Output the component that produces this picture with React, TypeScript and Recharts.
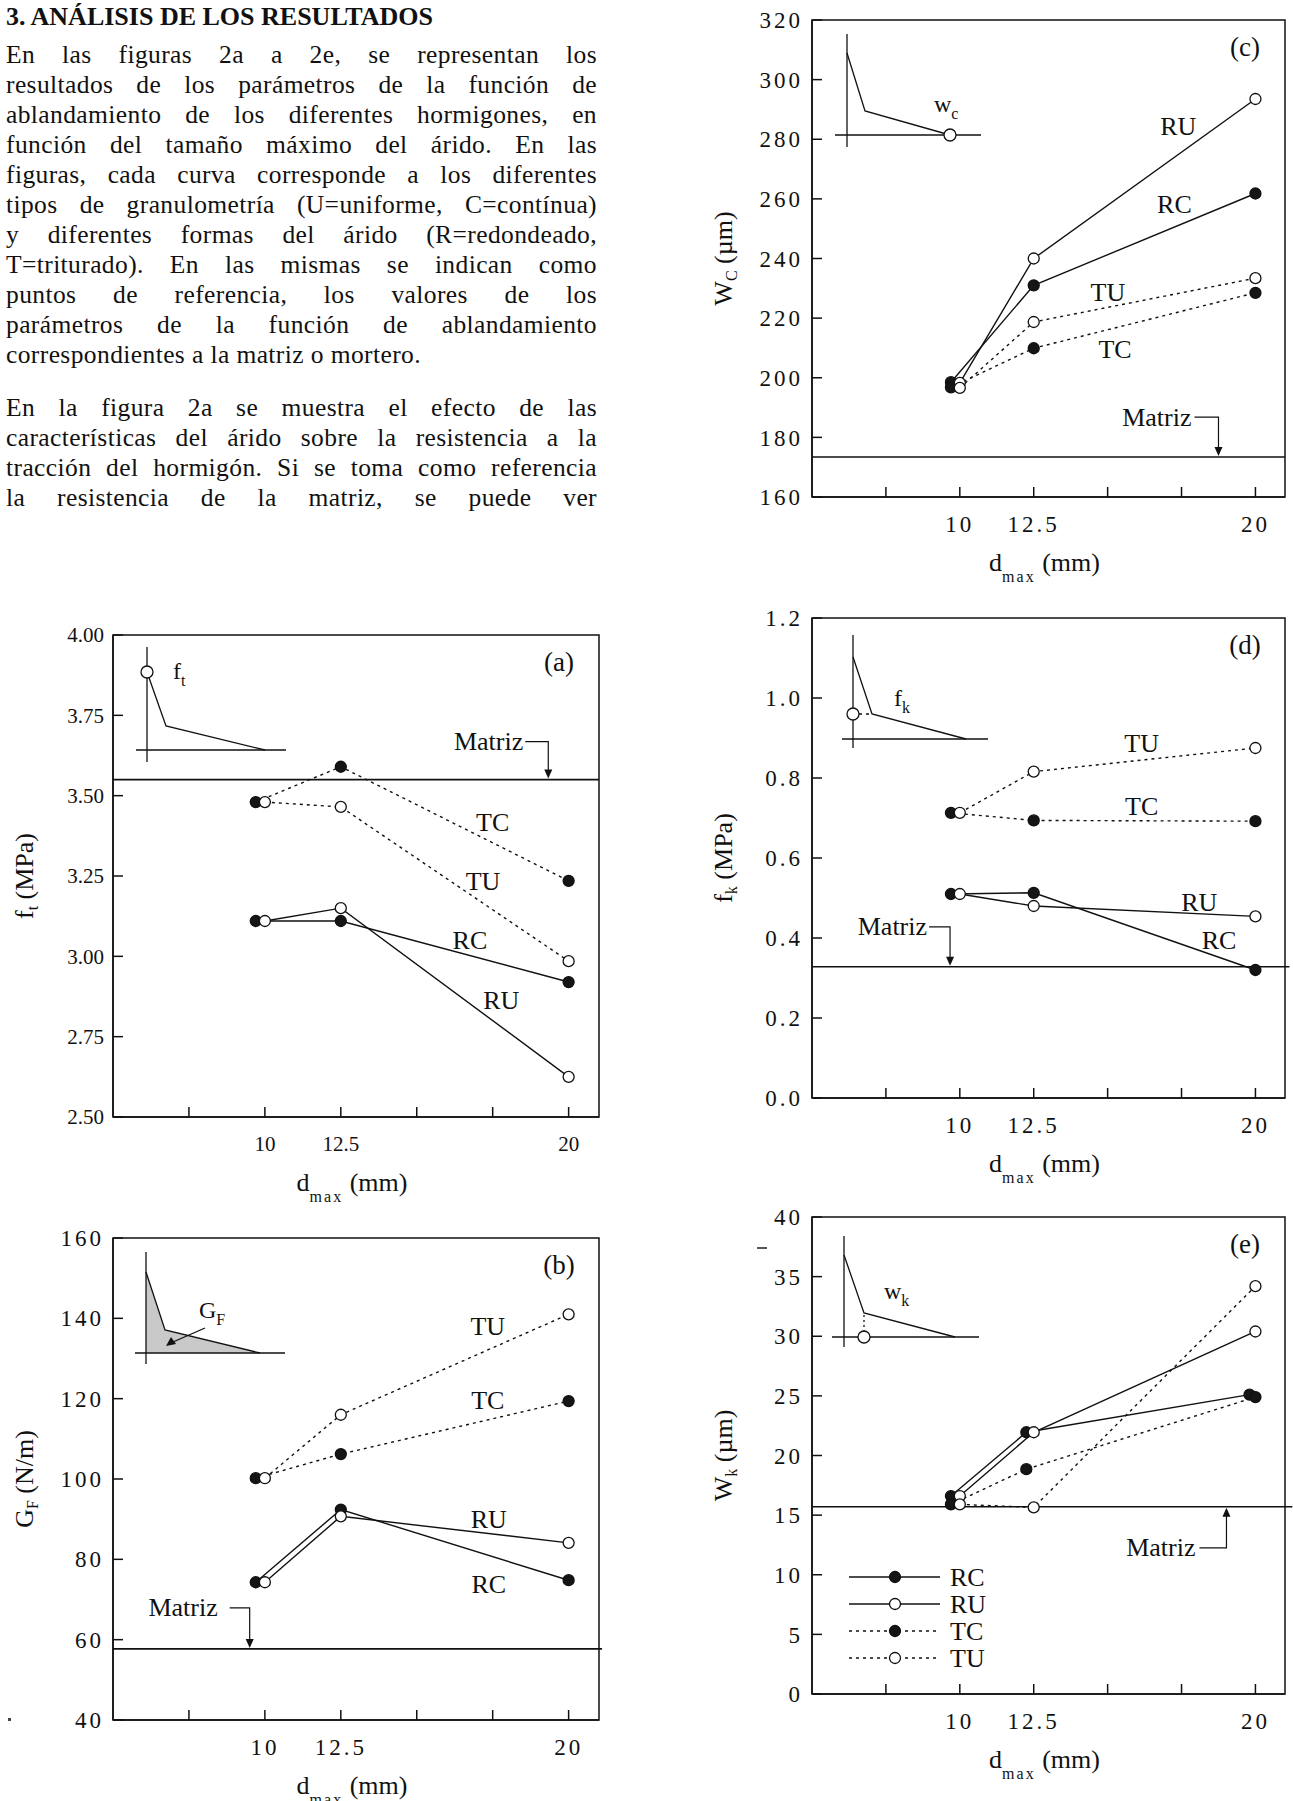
import React from "react";
import {
  LineChart,
  Line,
  XAxis,
  YAxis,
  ReferenceLine,
  ReferenceArea,
  ReferenceDot,
  Legend,
} from "recharts";

const SERIF = "'Liberation Serif', 'Times New Roman', serif";
const INK = "#111";

// ---- text block ----
const heading = "3. ANÁLISIS DE LOS RESULTADOS";
const para1 = [
  "En las figuras 2a a 2e, se representan los",
  "resultados de los parámetros de la función de",
  "ablandamiento de los diferentes hormigones, en",
  "función del tamaño máximo del árido. En las",
  "figuras, cada curva corresponde a los diferentes",
  "tipos de granulometría (U=uniforme, C=contínua)",
  "y diferentes formas del árido (R=redondeado,",
  "T=triturado). En las mismas se indican como",
  "puntos de referencia, los valores de los",
  "parámetros de la función de ablandamiento",
  "correspondientes a la matriz o mortero.",
];
const para2 = [
  "En la figura 2a se muestra el efecto de las",
  "características del árido sobre la resistencia a la",
  "tracción del hormigón. Si se toma como referencia",
  "la resistencia de la matriz, se puede ver",
];

// ---- x axis (d_max, mm) ----
const xTicks = [7.5, 10, 12.5, 15, 17.5, 20];
const xLabelled = [10, 12.5, 20];
// filled markers were plotted a little left of the open ones
const dmaxFilled = [9.7, 12.5, 20];
const dmaxOpen = [10, 12.5, 20];
const dmaxRCe = [9.7, 12.25, 19.8];
const dmaxTCe = [9.7, 12.25, 20];

// ---- (a) f_t (MPa) ----
const ftTicks = [2.5, 2.75, 3, 3.25, 3.5, 3.75, 4];
const ftRC = [3.11, 3.11, 2.92];
const ftRU = [3.11, 3.15, 2.625];
const ftTC = [3.48, 3.59, 3.235];
const ftTU = [3.48, 3.465, 2.985];
const ftMatriz = 3.55;

// ---- (b) G_F (N/m) ----
const gfTicks = [40, 60, 80, 100, 120, 140, 160];
const gfRC = [74.3, 92.4, 74.8];
const gfRU = [74.3, 90.7, 84.1];
const gfTC = [100.2, 106.2, 119.4];
const gfTU = [100.2, 116.0, 141.0];
const gfMatriz = 57.7;

// ---- (c) w_c (um) ----
const wcTicks = [160, 180, 200, 220, 240, 260, 280, 300, 320];
const wcRC = [198.5, 231.0, 261.8];
const wcRU = [198.3, 240.0, 293.5];
const wcTC = [196.8, 209.9, 228.5];
const wcTU = [196.6, 218.7, 233.4];
const wcMatriz = 173.4;

// ---- (d) f_k (MPa) ----
const fkTicks = [0, 0.2, 0.4, 0.6, 0.8, 1.0, 1.2];
const fkRC = [0.51, 0.513, 0.32];
const fkRU = [0.51, 0.48, 0.454];
const fkTC = [0.713, 0.694, 0.692];
const fkTU = [0.713, 0.816, 0.875];
const fkMatriz = 0.328;

// ---- (e) w_k (um) ----
const wkTicks = [0, 5, 10, 15, 20, 25, 30, 35, 40];
const wkRC = [16.6, 21.95, 25.1];
const wkRU = [16.6, 21.95, 30.4];
const wkTC = [15.9, 18.85, 24.9];
const wkTU = [15.9, 15.65, 34.2];
const wkMatriz = 15.7;
const legendNames = ["RC", "RU", "TC", "TU"];

type Series = { name: string; xs: number[]; ys: number[]; filled: boolean; dotted: boolean };
type Note = { text: string; x: number; y: number };
type Arrow = { x: number; dir: "down" | "up"; rise: number; seg: number; gap: number };

const four = (rc: number[], ru: number[], tc: number[], tu: number[], xRC = dmaxFilled, xTC = dmaxFilled): Series[] => [
  { name: "RC", xs: xRC, ys: rc, filled: true, dotted: false },
  { name: "TC", xs: xTC, ys: tc, filled: true, dotted: true },
  { name: "RU", xs: dmaxOpen, ys: ru, filled: false, dotted: false },
  { name: "TU", xs: dmaxOpen, ys: tu, filled: false, dotted: true },
];

function MatrizArrow({ cx, cy, dir, rise, seg, gap }: Arrow & { cx: number; cy: number }) {
  const s = dir === "down" ? -1 : 1;
  const ly = cy + s * rise;
  return (
    <g>
      <text x={cx - gap} y={ly} textAnchor="end" dominantBaseline="central" fontFamily={SERIF} fontSize={26} fill={INK}>
        Matriz
      </text>
      <polyline points={`${cx - seg},${ly} ${cx},${ly} ${cx},${cy + s * 9}`} fill="none" stroke={INK} strokeWidth={1.2} />
      <polygon points={`${cx - 4},${cy + s * 10} ${cx + 4},${cy + s * 10} ${cx},${cy + s * 1}`} fill={INK} />
    </g>
  );
}

function LegendBox({ series }: { series: Series[] }) {
  return (
    <svg width={170} height={110} style={{ overflow: "visible" }}>
      {legendNames.map((n, i) => {
        const s = series.find((q) => q.name === n)!;
        const y = 12 + i * 27;
        return (
          <g key={n}>
            <line x1={7} x2={98} y1={y} y2={y} stroke={INK} strokeWidth={1.4} strokeDasharray={s.dotted ? "3 4" : undefined} />
            <circle cx={53} cy={y} r={5.5} fill={s.filled ? "#151515" : "#fff"} stroke={INK} strokeWidth={1.3} />
            <text x={108} y={y} dominantBaseline="central" fontFamily={SERIF} fontSize={26} fill={INK}>
              {n}
            </text>
          </g>
        );
      })}
    </svg>
  );
}

type PanelProps = {
  left: number;
  top: number;
  w: number;
  h: number;
  yDomain: [number, number];
  yTicks: number[];
  yFmt: (v: number) => string;
  series: Series[];
  matriz: number;
  matrizEnd?: number;
  arrow: Arrow;
  notes: Note[];
  letter: string;
  yTitle: [string, string, string];
  spaced?: boolean;
  tickFont?: number;
  legend?: boolean;
  inset: React.ReactNode;
};

function Panel(p: PanelProps) {
  const W = p.w + 120;
  const H = p.h + 110;
  const tickStyle = { fill: INK, fontSize: p.tickFont ?? 23, fontFamily: SERIF, letterSpacing: p.spaced ? 3 : 0 };
  return (
    <div style={{ position: "absolute", left: p.left - 100, top: p.top - 20, width: W, height: H }}>
      <LineChart width={W} height={H} margin={{ top: 20, right: 20, left: 40, bottom: 50 }}>
        <XAxis
          type="number"
          dataKey="d"
          domain={[5, 21]}
          ticks={xTicks}
          interval={0}
          allowDataOverflow
          height={40}
          tickSize={-10}
          tickMargin={29}
          tickFormatter={(v: number) => (xLabelled.includes(v) ? String(v) : "")}
          stroke={INK}
          strokeWidth={1.5}
          tick={tickStyle}
        />
        <YAxis
          type="number"
          domain={p.yDomain}
          ticks={p.yTicks}
          interval={0}
          allowDataOverflow
          width={60}
          tickSize={-10}
          tickMargin={19}
          tickFormatter={p.yFmt}
          stroke={INK}
          strokeWidth={1.5}
          tick={tickStyle}
        />
        <ReferenceArea x1={5} x2={21} y1={p.yDomain[0]} y2={p.yDomain[1]} fill="none" stroke={INK} strokeWidth={1.5} />
        <ReferenceLine
          segment={[
            { x: 5, y: p.matriz },
            { x: p.matrizEnd ?? 21, y: p.matriz },
          ]}
          ifOverflow="visible"
          stroke={INK}
          strokeWidth={1.6}
        />
        {p.series.map((s) => (
          <Line
            key={s.name}
            name={s.name}
            data={s.xs.map((d, i) => ({ d, v: s.ys[i] }))}
            dataKey="v"
            type="linear"
            stroke={INK}
            strokeWidth={1.4}
            strokeDasharray={s.dotted ? "3 4" : undefined}
            dot={{ r: 5.5, fill: s.filled ? "#151515" : "#fff", stroke: INK, strokeWidth: 1.3, strokeDasharray: "none" }}
            activeDot={false}
            isAnimationActive={false}
          />
        ))}
        {p.notes.map((n) => (
          <ReferenceDot
            key={n.text}
            x={n.x}
            y={n.y}
            r={1}
            ifOverflow="visible"
            shape={(sp: any) => (
              <text x={sp.cx} y={sp.cy} textAnchor="middle" dominantBaseline="central" fontFamily={SERIF} fontSize={26} fill={INK}>
                {n.text}
              </text>
            )}
          />
        ))}
        <ReferenceDot
          x={p.arrow.x}
          y={p.matriz}
          r={1}
          ifOverflow="visible"
          shape={(sp: any) => <MatrizArrow cx={sp.cx} cy={sp.cy} {...p.arrow} />}
        />
        {p.legend && (
          <Legend
            layout="horizontal"
            verticalAlign="middle"
            align="center"
            wrapperStyle={{ left: 130, top: 368, width: 170, height: 110 }}
            content={() => <LegendBox series={p.series} />}
          />
        )}
      </LineChart>
      <svg
        width={p.w}
        height={p.h}
        style={{ position: "absolute", left: 100, top: 20, overflow: "visible", pointerEvents: "none" }}
        fontFamily={SERIF}
        fill={INK}
      >
        <g stroke={INK} strokeWidth={1.3} fill="none">
          {p.inset}
        </g>
        <text x={p.w - 40} y={27} textAnchor="middle" dominantBaseline="central" fontSize={27}>
          {p.letter}
        </text>
        <text x={p.w / 2 - 4} y={p.h + 74} textAnchor="middle" fontSize={26}>
          <tspan>d</tspan>
          <tspan dy={11} fontSize={16} letterSpacing={2}>
            max
          </tspan>
          <tspan dy={-11}> (mm)</tspan>
        </text>
        <text
          x={-89}
          y={p.h / 2}
          transform={`rotate(-90, -89, ${p.h / 2})`}
          textAnchor="middle"
          dominantBaseline="central"
          fontSize={26}
        >
          <tspan>{p.yTitle[0]}</tspan>
          <tspan dy={8} fontSize={16}>
            {p.yTitle[1]}
          </tspan>
          <tspan dy={-8}> {p.yTitle[2]}</tspan>
        </text>
      </svg>
    </div>
  );
}

const sub = (x: number, y: number, a: string, b: string) => (
  <text x={x} y={y} fontFamily={SERIF} fontSize={24} fill={INK} stroke="none">
    {a}
    <tspan dy={7} fontSize={16}>
      {b}
    </tspan>
  </text>
);

const insetA = (
  <>
    <line x1={34} y1={12} x2={34} y2={127} />
    <line x1={23} y1={115} x2={173} y2={115} />
    <polyline points="34,37 53,91 152,115" />
    <circle cx={34} cy={37} r={6} fill="#fff" />
    {sub(60, 44, "f", "t")}
  </>
);

const insetB = (
  <>
    <polygon points="33,34 52,92 147,115 33,115" fill="#c9c9c9" stroke="none" />
    <line x1={33} y1={14} x2={33} y2={126} />
    <line x1={22} y1={115} x2={172} y2={115} />
    <polyline points="33,34 52,92 147,115" />
    <line x1={92} y1={90} x2={60} y2={104} />
    <polygon points="53,108 58,99 63,106" fill={INK} stroke="none" />
    {sub(86, 80, "G", "F")}
  </>
);

const insetC = (
  <>
    <line x1={35} y1={14} x2={35} y2={127} />
    <line x1={23} y1={115} x2={169} y2={115} />
    <polyline points="35,33 53,91 138,115" />
    <circle cx={138} cy={115} r={6} fill="#fff" />
    {sub(122, 92, "w", "c")}
  </>
);

const insetD = (
  <>
    <line x1={41} y1={17} x2={41} y2={130} />
    <line x1={30} y1={121} x2={176} y2={121} />
    <polyline points="41,39 60,96 154,121" />
    <line x1={47} y1={96} x2={58} y2={96} strokeDasharray="3 4" />
    <circle cx={41} cy={96} r={6} fill="#fff" />
    {sub(82, 88, "f", "k")}
  </>
);

const insetE = (
  <>
    <line x1={32} y1={19} x2={32} y2={130} />
    <line x1={20} y1={120} x2={167} y2={120} />
    <polyline points="32,38 52,96 143,120" />
    <line x1={52} y1={98} x2={52} y2={114} strokeDasharray="2 3" />
    <circle cx={52} cy={120} r={6} fill="#fff" />
    {sub(72, 82, "w", "k")}
  </>
);

const lineStyle: React.CSSProperties = {
  position: "absolute",
  left: 6,
  width: 591,
  height: 30,
  lineHeight: "30px",
  fontFamily: SERIF,
  fontSize: 25.5,
  letterSpacing: 0.4,
  color: INK,
  textAlign: "justify",
  textAlignLast: "justify",
};

export default function App() {
  return (
    <div style={{ position: "absolute", left: 0, top: 0, width: 1293, height: 1801, background: "#fff", overflow: "hidden" }}>
      <div style={{ ...lineStyle, top: 2, fontSize: 26, letterSpacing: 0, fontWeight: "bold", textAlign: "left", textAlignLast: "left" }}>
        {heading}
      </div>
      {para1.map((t, i) => (
        <div
          key={"p1" + i}
          style={{ ...lineStyle, top: 40 + 30 * i, ...(i === para1.length - 1 ? { textAlign: "left", textAlignLast: "left" } : {}) }}
        >
          {t}
        </div>
      ))}
      {para2.map((t, i) => (
        <div key={"p2" + i} style={{ ...lineStyle, top: 393 + 30 * i }}>
          {t}
        </div>
      ))}

      {/* specks from the scan */}
      <div style={{ position: "absolute", left: 757, top: 1247, width: 10, height: 2, background: "#555" }} />
      <div style={{ position: "absolute", left: 8, top: 1718, width: 3, height: 3, background: "#444" }} />

      <Panel
        left={113}
        top={635}
        w={486}
        h={482}
        yDomain={[2.5, 4]}
        yTicks={ftTicks}
        yFmt={(v) => v.toFixed(2)}
        tickFont={21}
        series={four(ftRC, ftRU, ftTC, ftTU)}
        matriz={ftMatriz}
        arrow={{ x: 19.33, dir: "down", rise: 38, seg: 23, gap: 25 }}
        notes={[
          { text: "TC", x: 17.5, y: 3.418 },
          { text: "TU", x: 17.18, y: 3.234 },
          { text: "RC", x: 16.75, y: 3.049 },
          { text: "RU", x: 17.78, y: 2.862 },
        ]}
        letter="(a)"
        yTitle={["f", "t", "(MPa)"]}
        inset={insetA}
      />
      <Panel
        left={113}
        top={1238}
        w={486}
        h={482}
        yDomain={[40, 160]}
        yTicks={gfTicks}
        yFmt={(v) => String(v)}
        series={four(gfRC, gfRU, gfTC, gfTU)}
        matriz={gfMatriz}
        matrizEnd={21.1}
        arrow={{ x: 9.5, dir: "down", rise: 41, seg: 20, gap: 32 }}
        notes={[
          { text: "TU", x: 17.34, y: 137.9 },
          { text: "TC", x: 17.34, y: 119.5 },
          { text: "RU", x: 17.37, y: 89.9 },
          { text: "RC", x: 17.37, y: 73.8 },
        ]}
        letter="(b)"
        yTitle={["G", "F", "(N/m)"]}
        spaced
        inset={insetB}
      />
      <Panel
        left={812}
        top={20}
        w={473}
        h={477}
        yDomain={[160, 320]}
        yTicks={wcTicks}
        yFmt={(v) => String(v)}
        series={four(wcRC, wcRU, wcTC, wcTU)}
        matriz={wcMatriz}
        arrow={{ x: 18.75, dir: "down", rise: 40, seg: 24, gap: 27 }}
        notes={[
          { text: "RU", x: 17.39, y: 284.4 },
          { text: "RC", x: 17.26, y: 258.0 },
          { text: "TU", x: 15.01, y: 228.7 },
          { text: "TC", x: 15.25, y: 209.6 },
        ]}
        letter="(c)"
        yTitle={["W", "C", "(\u00b5m)"]}
        spaced
        inset={insetC}
      />
      <Panel
        left={812}
        top={618}
        w={473}
        h={480}
        yDomain={[0, 1.2]}
        yTicks={fkTicks}
        yFmt={(v) => v.toFixed(1)}
        series={four(fkRC, fkRU, fkTC, fkTU)}
        matriz={fkMatriz}
        matrizEnd={21.15}
        arrow={{ x: 9.67, dir: "down", rise: 40, seg: 21, gap: 23 }}
        notes={[
          { text: "TU", x: 16.15, y: 0.887 },
          { text: "TC", x: 16.15, y: 0.729 },
          { text: "RU", x: 18.1, y: 0.489 },
          { text: "RC", x: 18.77, y: 0.395 },
        ]}
        letter="(d)"
        yTitle={["f", "k", "(MPa)"]}
        spaced
        inset={insetD}
      />
      <Panel
        left={812}
        top={1217}
        w={473}
        h={477}
        yDomain={[0, 40]}
        yTicks={wkTicks}
        yFmt={(v) => String(v)}
        series={four(wkRC, wkRU, wkTC, wkTU, dmaxRCe, dmaxTCe)}
        matriz={wkMatriz}
        matrizEnd={21.25}
        arrow={{ x: 19.02, dir: "up", rise: 41, seg: 27, gap: 31 }}
        notes={[]}
        letter="(e)"
        yTitle={["W", "k", "(\u00b5m)"]}
        spaced
        legend
        inset={insetE}
      />
    </div>
  );
}
